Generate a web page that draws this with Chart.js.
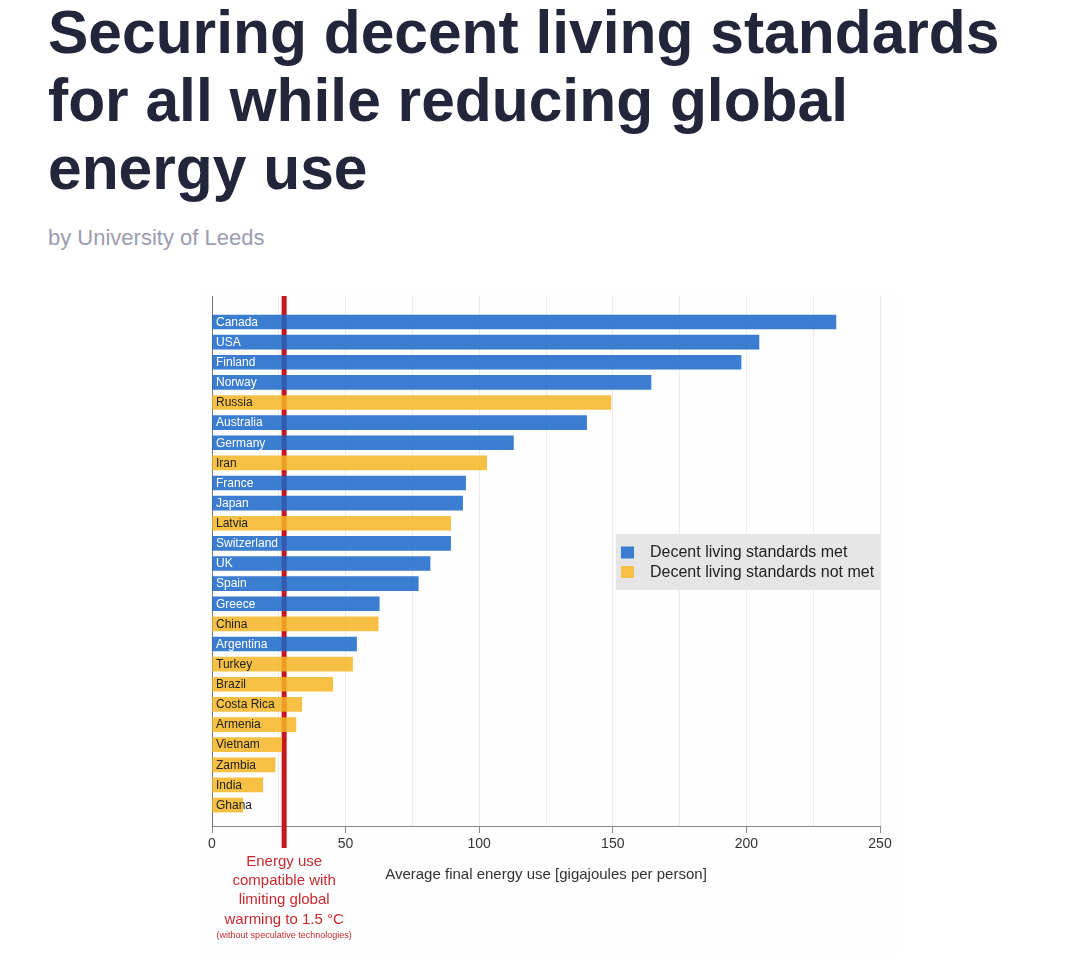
<!DOCTYPE html>
<html>
<head>
<meta charset="utf-8">
<script src="https://cdn.jsdelivr.net/npm/chart.js@4.4.1/dist/chart.umd.min.js"></script>
<style>
  html, body { margin:0; padding:0; background:#ffffff; width:1080px; height:978px; overflow:hidden; }
  body { position:relative; font-family:"Liberation Sans", Arial, Helvetica, sans-serif; }
  h1 { position:absolute; left:48px; top:-2px; margin:0; width:965px; font-size:60.5px; line-height:68px; font-weight:bold; color:#23253a; }
  .sub { position:absolute; left:48px; top:225px; margin:0; font-size:22px; color:#9c9cb0; }
  #wrap { position:absolute; left:200px; top:292px; width:700px; height:663px; background:#fefefe; }
</style>
</head>
<body>
<h1>Securing decent living standards for all while reducing global energy use</h1>
<div class="sub">by University of Leeds</div>
<div id="wrap"><canvas id="c"></canvas></div>
<script>
const countries = ["Canada","USA","Finland","Norway","Russia","Australia","Germany","Iran","France","Japan","Latvia","Switzerland","UK","Spain","Greece","China","Argentina","Turkey","Brazil","Costa Rica","Armenia","Vietnam","Zambia","India","Ghana"];
const energyUse = [233.5,204.7,198,164.3,149.3,140.2,112.8,102.8,94.9,93.8,89.3,89.3,81.6,77.2,62.6,62.2,54.1,52.6,45.2,33.6,31.4,26.1,23.6,19.0,11.5];
const standardsMet = [1,1,1,1,0,1,1,0,1,1,0,1,1,1,1,0,1,0,0,0,0,0,0,0,0];
const seriesNames = ["Decent living standards met","Decent living standards not met"];
const xTicks = [0,50,100,150,200,250];
const threshold = 27;
const annotationLines = ["Energy use","compatible with","limiting global","warming to 1.5 °C"];
const annotationNote = "(without speculative technologies)";
const xTitle = "Average final energy use [gigajoules per person]";

const BLUE = "rgba(25,102,200,0.85)", YELLOW = "rgba(243,181,35,0.85)";
const BLUE_SOLID = "#3b7dd0", YELLOW_SOLID = "#f5c044", RED = "#c8161d";

function pts(flag){
  const out = [];
  countries.forEach((c,i)=>{ if(standardsMet[i]===flag) out.push({x:energyUse[i], y:i}); });
  return out;
}

const overlay = {
  id:'overlay',
  beforeDatasetsDraw(chart){
    const {ctx, chartArea, scales:{x}} = chart;
    const px = x.getPixelForValue(threshold);
    ctx.save();
    ctx.fillStyle = RED;
    ctx.fillRect(px-2.5, chartArea.top, 5, chartArea.bottom + 22 - chartArea.top);
    ctx.restore();
  },
  afterDatasetsDraw(chart){
    const {ctx, scales:{x,y}} = chart;
    ctx.save();
    ctx.font = '12px "Liberation Sans", Arial, sans-serif';
    ctx.textBaseline = 'middle';
    ctx.textAlign = 'left';
    countries.forEach((c,i)=>{
      ctx.fillStyle = standardsMet[i] ? '#ffffff' : '#222222';
      ctx.fillText(c, x.getPixelForValue(0)+4, y.getPixelForValue(i)+0.5);
    });
    ctx.restore();
  },
  afterDraw(chart){
    const {ctx, scales:{x}} = chart;
    const px = x.getPixelForValue(threshold);
    ctx.save();
    ctx.fillStyle = '#c62a30';
    ctx.textAlign = 'center';
    ctx.textBaseline = 'middle';
    ctx.font = '15px "Liberation Sans", Arial, sans-serif';
    annotationLines.forEach((t,k)=> ctx.fillText(t, px, 569.5 + k*19.3));
    ctx.font = '9px "Liberation Sans", Arial, sans-serif';
    ctx.fillText(annotationNote, px, 644);
    // legend
    ctx.fillStyle = '#e6e6e6';
    ctx.fillRect(416, 242, 264, 56);
    const cols = [BLUE_SOLID, YELLOW_SOLID];
    ctx.textAlign = 'left';
    ctx.font = '16px "Liberation Sans", Arial, sans-serif';
    seriesNames.forEach((n,k)=>{
      ctx.fillStyle = cols[k];
      ctx.fillRect(421, 254.5 + k*19.5, 13, 12);
      ctx.fillStyle = '#222222';
      ctx.fillText(n, 450, 261 + k*19.5);
    });
    ctx.restore();
  }
};

new Chart(document.getElementById('c'), {
  type:'bar',
  data:{
    datasets:[
      {label:seriesNames[0], data:pts(1), backgroundColor:BLUE, barThickness:14, grouped:false},
      {label:seriesNames[1], data:pts(0), backgroundColor:YELLOW, barThickness:14, grouped:false}
    ]
  },
  options:{
    indexAxis:'y',
    responsive:true,
    maintainAspectRatio:false,
    animation:false,
    layout:{padding:{left:12, right:20, top:4, bottom:0}},
    plugins:{legend:{display:false}, tooltip:{enabled:false}},
    scales:{
      x:{
        type:'linear', min:0, max:250,
        afterBuildTicks(s){ s.ticks = []; for(let v=0; v<=250; v+=25) s.ticks.push({value:v}); },
        afterFit(s){ s.height = 129; },
        ticks:{
          callback:(v)=> xTicks.includes(v) ? String(v) : '',
          font:{size:14, family:'"Liberation Sans", Arial, sans-serif'},
          color:'#333333', padding:3, maxRotation:0, autoSkip:false
        },
        grid:{
          color:'#ececec', lineWidth:1, tickLength:7,
          tickColor:(c)=> (c.tick && xTicks.includes(c.tick.value)) ? '#888888' : 'rgba(0,0,0,0)'
        },
        border:{display:true, color:'#888888', width:1},
        title:{display:true, text:xTitle, color:'#333333',
          font:{size:15, family:'"Liberation Sans", Arial, sans-serif'},
          padding:{top:0, bottom:71}}
      },
      y:{
        type:'linear', reverse:true, min:-1.29, max:25.04, offset:false,
        afterFit(s){ s.width = 0; },
        ticks:{display:false},
        grid:{display:false, drawTicks:false, tickLength:0, offset:false},
        border:{display:true, color:'#777777', width:1}
      }
    }
  },
  plugins:[overlay]
});
</script>
</body>
</html>
